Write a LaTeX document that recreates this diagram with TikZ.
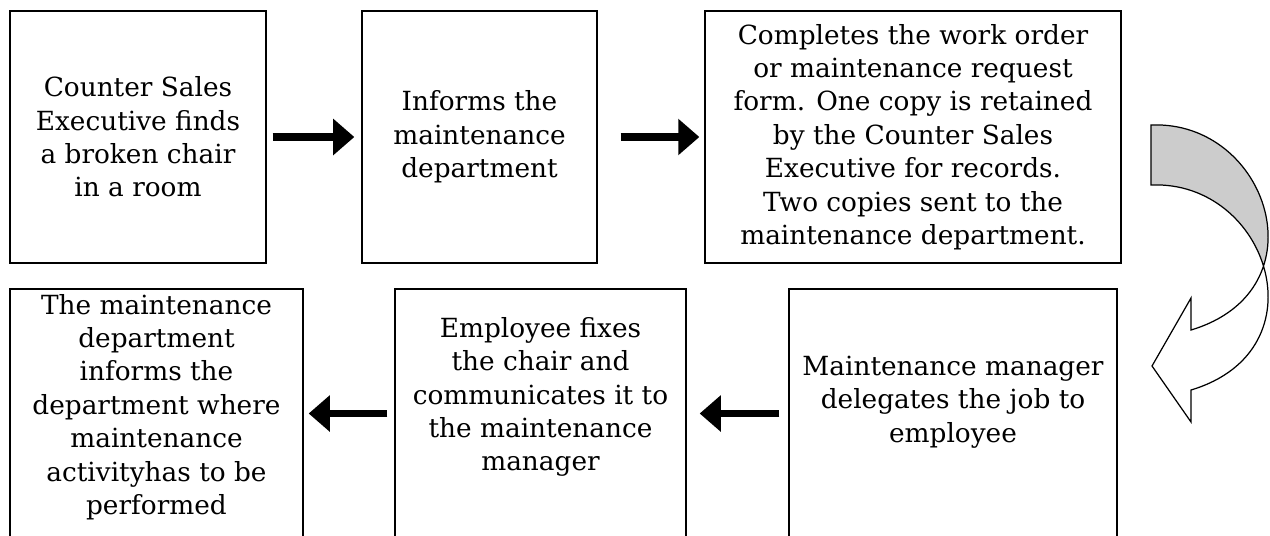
\documentclass[tikz,border=0pt]{standalone}
\usepackage{fontspec}
\setmainfont{DejaVu Serif}
\usetikzlibrary{arrows.meta}

\begin{document}
\begin{tikzpicture}[x=0.02cm, y=-0.02cm,
  stepbox/.style={draw, line width=0.8pt, inner sep=0pt, align=center, font=\fontsize{15}{19}\selectfont},
  steptext/.style={inner sep=0pt, align=center, font=\fontsize{15}{19}\selectfont},
  fatarrow/.style={line width=4pt, -{Triangle[length=12pt, width=20pt]}}]
\useasboundingbox (0,0) rectangle (1270,535);
\clip (0,0) rectangle (1270,535);

% top row
\node[stepbox, minimum width=5.12cm, minimum height=5.04cm] (finds) at (138,137) {Counter Sales\\Executive finds\\a broken chair\\in a room};
\node[stepbox, minimum width=4.70cm, minimum height=5.04cm] (informs) at (479.5,137) {Informs the\\maintenance\\department};
\node[stepbox, minimum width=8.32cm, minimum height=5.04cm] (completes) at (913,137) {Completes the work order\\or maintenance request\\form. One copy is retained\\by the Counter Sales\\Executive for records.\\Two copies sent to the\\maintenance department.};

% bottom row, runs off the page
\node[stepbox, minimum width=6.56cm, minimum height=4.98cm] (delegates) at (953,413.5) {};
\node[stepbox, minimum width=5.82cm, minimum height=4.98cm] (fixes) at (540.5,413.5) {};
\node[stepbox, minimum width=5.86cm, minimum height=4.98cm] (notifies) at (156.5,413.5) {};
\node[steptext] (delegatestext) at (953,402) {Maintenance manager\\delegates the job to\\employee};
\node[steptext] (fixestext) at (540.5,397) {Employee fixes\\the chair and\\communicates it to\\the maintenance\\manager};
\node[steptext] (notifiestext) at (156.5,407) {The maintenance\\department\\informs the\\department where\\maintenance\\activityhas to be\\performed};

% arrows
\draw[fatarrow, shorten <=0.12cm, shorten >=0.14cm] (finds.east) -- (informs.west);
\draw[fatarrow, shorten <=0.46cm, shorten >=0.10cm] (informs.east) -- (completes.west);
\draw[fatarrow, shorten <=0.18cm, shorten >=0.26cm] (delegates.west) -- (fixes.east);
\draw[fatarrow, shorten <=0.14cm, shorten >=0.10cm] (fixes.west) -- (notifies.east);

% twisted arrow down the right side
\fill[black!20] (1151,125) .. controls (1268,120) and (1324,290) .. (1191,330) -- (1151,330) -- cycle;
\fill[white] (1151,185) .. controls (1268,180) and (1324,350) .. (1191,390) -- (1151,390) -- cycle;
\draw[line width=0.7pt] (1151,125) .. controls (1268,120) and (1324,290) .. (1191,330)
  -- (1191,298) -- (1152,366) -- (1191,422) -- (1191,390)
  .. controls (1324,350) and (1268,180) .. (1151,185) -- cycle;
\end{tikzpicture}
\end{document}
